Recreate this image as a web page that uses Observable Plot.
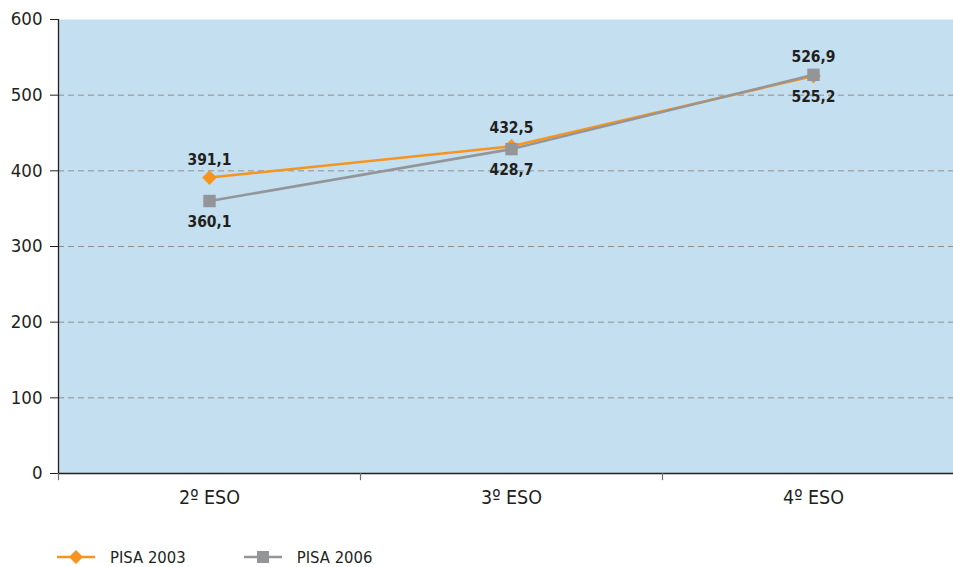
<!DOCTYPE html>
<html><head><meta charset="utf-8">
<script src="https://cdn.jsdelivr.net/npm/d3@7"></script>
<script src="https://cdn.jsdelivr.net/npm/@observablehq/plot@0.6"></script>
<style>
body{margin:0;background:#fff;font-family:"Liberation Sans Narrow","DejaVu Sans Condensed",sans-serif;}
#wrap{position:relative;width:953px;height:567px;}
#legend{position:absolute;left:0;top:546px;display:flex;align-items:center;font-size:16.5px;color:#231f20;}
#legend .item{display:flex;align-items:center;}
</style></head>
<body><div id="wrap"><div id="chart"></div><div id="legend"></div></div>
<script>
const categories = ["2º ESO", "3º ESO", "4º ESO"];
const pisa2003 = [391.1, 432.5, 525.2];
const pisa2006 = [360.1, 428.7, 526.9];
const labelSide2003 = ["above", "above", "below"];
const labelSide2006 = ["below", "below", "above"];
const yTicks = [0, 100, 200, 300, 400, 500, 600];
const seriesNames = ["PISA 2003", "PISA 2006"];

const fmt = v => v.toFixed(1).replace(".", ",");
const d03 = categories.map((c, i) => ({cat: c, v: pisa2003[i], side: labelSide2003[i]}));
const d06 = categories.map((c, i) => ({cat: c, v: pisa2006[i], side: labelSide2006[i]}));
const allLabels = [...d03, ...d06];

const orange = "#f7941d", gray = "#939598", ink = "#231f20";
const font = "Liberation Sans Narrow, DejaVu Sans Condensed, sans-serif";

const chart = Plot.plot({
  width: 953, height: 520,
  marginLeft: 58, marginRight: 0, marginTop: 19, marginBottom: 47,
  style: {fontFamily: font, fontSize: "18px", color: ink, background: "transparent"},
  x: {type: "band", domain: categories, range: [58, 964], padding: 0, label: null},
  y: {domain: [0, 600], label: null},
  marks: [
    Plot.frame({fill: "#c3dff0", stroke: null}),
    Plot.gridY(yTicks.filter(t => t > 0 && t < 600), {stroke: "#8f8f8f", strokeOpacity: 1, strokeDasharray: "6,4", strokeWidth: 1}),
    Plot.ruleX([categories[0]], {x: d => d, dx: -151, y1: 0, y2: 600, stroke: ink, strokeWidth: 1.3}),
    Plot.axisY({ticks: yTicks, tickSize: 8, tickPadding: 8, stroke: ink, fontSize: 18.5, tickFormat: d => d}),
    Plot.ruleY([0], {stroke: ink, strokeWidth: 1.5}),
    Plot.axisX({ticks: categories, tickSize: 0, tickPadding: 17, fontSize: 19.5, tickFormat: d => d}),
    Plot.ruleX(categories, {x: d => d, dx: -151, y1: 0, y2: -9.5, stroke: "#6d6e71", strokeWidth: 1.2}),
    Plot.line(d03, {x: "cat", y: "v", stroke: orange, strokeWidth: 2.5}),
    Plot.dot(d03, {x: "cat", y: "v", symbol: "diamond2", r: 6.6, fill: orange, stroke: null}),
    Plot.line(d06, {x: "cat", y: "v", stroke: gray, strokeWidth: 2.5}),
    Plot.dot(d06, {x: "cat", y: "v", symbol: "square", r: 7, fill: gray, stroke: null}),
    Plot.text(allLabels.filter(d => d.side === "above"), {x: "cat", y: "v", text: d => fmt(d.v), dy: -18, fill: ink, fontSize: 15.5, fontWeight: "bold"}),
    Plot.text(allLabels.filter(d => d.side === "below"), {x: "cat", y: "v", text: d => fmt(d.v), dy: 21, fill: ink, fontSize: 15.5, fontWeight: "bold"})
  ]
});
document.getElementById("chart").append(chart);

// legend
const leg = document.getElementById("legend");
const items = [
  {name: seriesNames[0], color: orange, sym: "diamond"},
  {name: seriesNames[1], color: gray, sym: "square"}
];
items.forEach((it, i) => {
  const el = document.createElement("div");
  el.className = "item";
  el.style.marginLeft = i === 0 ? "57px" : "58px";
  const sym = it.sym === "diamond"
    ? `<polygon points="19,4 26,11 19,18 12,11" fill="${it.color}"/>`
    : `<rect x="13" y="5" width="12" height="12" fill="${it.color}"/>`;
  el.innerHTML = `<svg width="38" height="22"><line x1="0" y1="11" x2="38" y2="11" stroke="${it.color}" stroke-width="2.5"/>${sym}</svg><span style="margin-left:15px">${it.name}</span>`;
  leg.append(el);
});
</script></body></html>
